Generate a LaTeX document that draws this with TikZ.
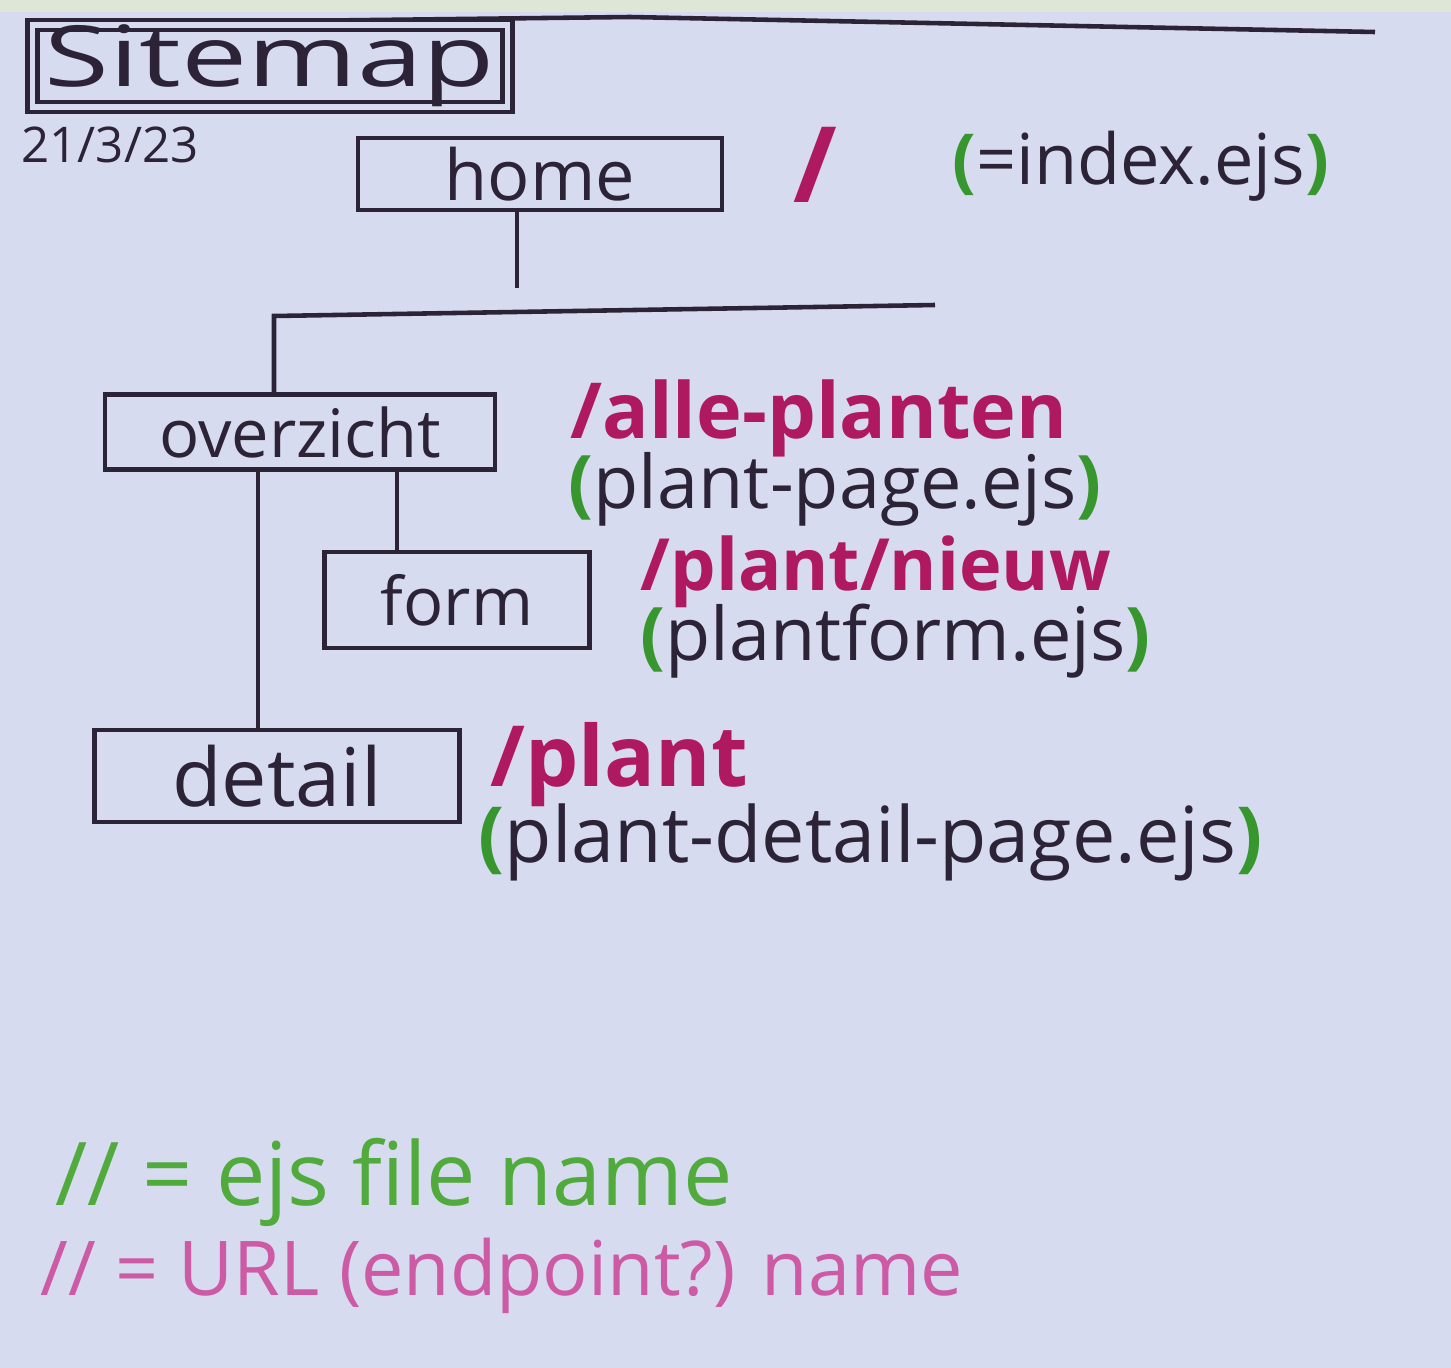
\documentclass[tikz,border=0pt]{standalone}
\usepackage{fontspec}
\setmainfont{Open Sans}
\definecolor{paper}{RGB}{214,219,240}
\definecolor{edge}{RGB}{222,230,214}
\definecolor{ink}{RGB}{45,35,55}
\definecolor{routemag}{RGB}{175,25,95}
\definecolor{filegreen}{RGB}{55,150,45}
\definecolor{legendgreen}{RGB}{80,170,60}
\definecolor{legendpink}{RGB}{205,90,165}
\newcommand\ejsfile[1]{\textcolor{filegreen}{\bfseries(}#1\textcolor{filegreen}{\bfseries)}}
\begin{document}
\begin{tikzpicture}[
    pagebox/.style={draw=ink, line width=1.3pt, inner sep=0pt, text=ink},
    route/.style={text=routemag, inner sep=0pt, anchor=base west},
    filename/.style={text=ink, inner sep=0pt, anchor=base west},
    tree/.style={draw=ink, line width=1.3pt}
]
    % paper
    \fill[paper] (0,0) rectangle (14.51,-13.68);
    \fill[edge] (0,0) rectangle (14.51,-0.12);
    \useasboundingbox (0,0) rectangle (14.51,-13.68);
    \draw[tree] (0.30,-0.24) -- (6.30,-0.17) -- (13.75,-0.32);

    % title and date
    \node[pagebox, minimum width=4.75cm, minimum height=0.72cm, double=paper, double distance=1.5pt,
          font=\fontsize{24}{26}\selectfont] (title) at (2.70,-0.66) {\scalebox{1.4}[1]{Sitemap}};
    \node[text=ink, font=\fontsize{14}{16}\selectfont] (date) at (1.10,-1.45) {21/3/23};

    % pages
    \node[pagebox, minimum width=3.64cm, minimum height=0.72cm, font=\fontsize{20}{22}\selectfont] (home) at (5.40,-1.74) {home};
    \node[pagebox, minimum width=3.90cm, minimum height=0.75cm, font=\fontsize{19}{21}\selectfont] (overzicht) at (3.00,-4.32) {overzicht};
    \node[pagebox, minimum width=2.65cm, minimum height=0.96cm, font=\fontsize{19}{21}\selectfont] (form) at (4.57,-6.00) {form};
    \node[pagebox, minimum width=3.65cm, minimum height=0.92cm, font=\fontsize{23}{25}\selectfont] (detail) at (2.77,-7.76) {detail};

    % tree lines
    \coordinate (split) at (5.17,-2.88);
    \coordinate (barleft) at (2.74,-3.16);
    \coordinate (barright) at (9.35,-3.05);
    \draw[tree] (home.south -| split) -- (split);
    \draw[tree] (barright) -- (barleft) -- (barleft |- overzicht.north);
    \draw[tree] (overzicht.south -| 2.58,0) -- (2.58,0 |- detail.north);
    \draw[tree] (overzicht.south -| 3.97,0) -- (3.97,0 |- form.north);

    % routes and ejs files
    \node[text=routemag, font=\bfseries\fontsize{30}{34}\selectfont] (homeroute) at (8.15,-1.65) {/};
    \node[filename, font=\fontsize{20}{22}\selectfont] (homefile) at (9.52,-1.84) {\ejsfile{=index.ejs}};
    \node[route, font=\bfseries\fontsize{22}{24}\selectfont] (overzichtroute) at (5.70,-4.38) {/alle-planten};
    \node[filename, font=\fontsize{21}{23}\selectfont] (overzichtfile) at (5.68,-5.08) {\ejsfile{plant-page.ejs}};
    \node[route, font=\bfseries\fontsize{20.5}{22}\selectfont] (formroute) at (6.40,-5.90) {/plant/nieuw};
    \node[filename, font=\fontsize{21}{23}\selectfont] (formfile) at (6.40,-6.60) {\ejsfile{plantform.ejs}};
    \node[route, font=\bfseries\fontsize{24}{26}\selectfont] (detailroute) at (4.90,-7.86) {/plant};
    \node[filename, font=\fontsize{22}{24}\selectfont] (detailfile) at (4.78,-8.62) {\ejsfile{plant-detail-page.ejs}};

    % legend
    \node[text=legendgreen, inner sep=0pt, anchor=base west, font=\fontsize{25}{27}\selectfont] (legendfile) at (0.55,-12.05) {// = ejs file name};
    \node[text=legendpink, inner sep=0pt, anchor=base west, font=\fontsize{21.5}{23}\selectfont] (legendroute) at (0.40,-12.95) {// = URL (endpoint?) name};
\end{tikzpicture}
\end{document}
